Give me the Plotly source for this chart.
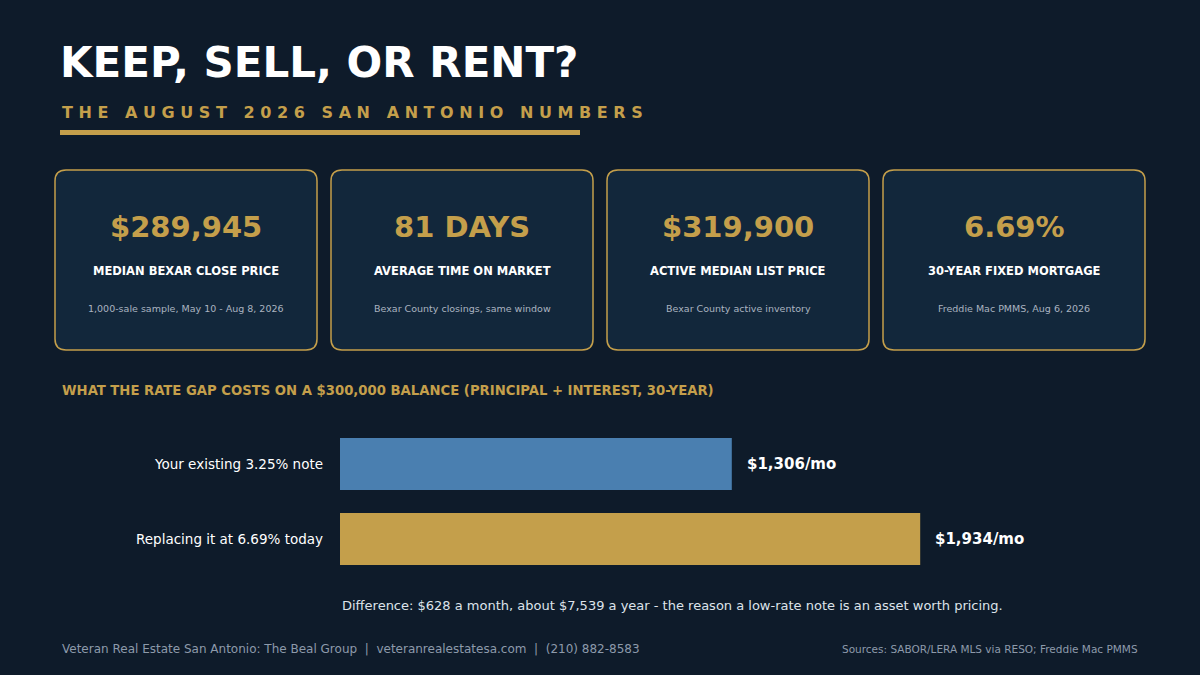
import plotly.graph_objects as go

labels = ["Your existing 3.25% note", "Replacing it at 6.69% today"]
payments = [1306, 1934]
pay_text = ["$1,306/mo", "$1,934/mo"]
bar_colors = ["#4a7fb0", "#c49f4b"]
card_values = ["$289,945", "81 DAYS", "$319,900", "6.69%"]
card_titles = ["MEDIAN BEXAR CLOSE PRICE", "AVERAGE TIME ON MARKET", "ACTIVE MEDIAN LIST PRICE", "30-YEAR FIXED MORTGAGE"]
card_notes = ["1,000-sale sample, May 10 - Aug 8, 2026", "Bexar County closings, same window",
              "Bexar County active inventory", "Freddie Mac PMMS, Aug 6, 2026"]
subtitle = "THE AUGUST 2026 SAN ANTONIO NUMBERS"

W, H = 1200, 675
BG = "#0e1b2a"; CARD = "#12273b"; GOLD = "#c49f4b"
FONT = "DejaVu Sans"

def px(x): return x / W
def py(y): return 1 - y / H

fig = go.Figure()
ypos = [1, 0]
fig.add_trace(go.Bar(x=payments, y=ypos, orientation="h", marker_color=bar_colors,
                     marker_line_width=0, width=0.693, hoverinfo="skip"))

shapes, ann = [], []
def rrect(x0, y0, x1, y1, r):
    X0, X1 = px(x0), px(x1)
    Y0, Y1 = py(y0), py(y1)
    rx, ry = r / W, r / H
    return (f"M {X0+rx},{Y0} L {X1-rx},{Y0} Q {X1},{Y0} {X1},{Y0-ry} L {X1},{Y1+ry} "
            f"Q {X1},{Y1} {X1-rx},{Y1} L {X0+rx},{Y1} Q {X0},{Y1} {X0},{Y1+ry} L {X0},{Y0-ry} Q {X0},{Y0} {X0+rx},{Y0} Z")

for i in range(4):
    x0 = 55 + i * 276; x1 = x0 + 262; cx = (x0 + x1) / 2
    shapes.append(dict(type="path", xref="paper", yref="paper", path=rrect(x0, 170, x1, 350, 11),
                       fillcolor=CARD, line=dict(color=GOLD, width=1.5), layer="below"))
    ann.append(dict(x=px(cx), y=py(227), text=f"<b>{card_values[i]}</b>", font=dict(size=29, color=GOLD, family=FONT)))
    ann.append(dict(x=px(cx), y=py(271), text=f"<b>{card_titles[i]}</b>", font=dict(size=11.5, color="white", family=FONT)))
    ann.append(dict(x=px(cx), y=py(308), text=card_notes[i], font=dict(size=9.5, color="#aab4c0", family=FONT)))

shapes.append(dict(type="rect", xref="paper", yref="paper", x0=px(60), x1=px(580), y0=py(130), y1=py(135),
                   fillcolor=GOLD, line_width=0))

spaced = "&nbsp;&nbsp;&nbsp;".join("&nbsp;".join(w) for w in subtitle.split(" "))
ann.append(dict(x=px(58), y=py(62), xanchor="left", text="<b>KEEP, SELL, OR RENT?</b>",
                font=dict(size=42, color="white", family=FONT)))
ann.append(dict(x=px(60), y=py(112), xanchor="left", text=f"<b>{spaced}</b>",
                font=dict(size=16, color=GOLD, family=FONT)))
ann.append(dict(x=px(60), y=py(390), xanchor="left",
                text="<b>WHAT THE RATE GAP COSTS ON A $300,000 BALANCE (PRINCIPAL + INTEREST, 30-YEAR)</b>",
                font=dict(size=14.7, color=GOLD, family="DejaVu Sans Condensed, " + FONT)))
for lab, yy in zip(labels, [464, 539]):
    ann.append(dict(x=px(325), y=py(yy), xanchor="right", text=lab, font=dict(size=13.5, color="white", family=FONT)))
for v, t, yv in zip(payments, pay_text, ypos):
    ann.append(dict(x=v, y=yv, xref="x", yref="y", xanchor="left", xshift=13, text=f"<b>{t}</b>",
                    font=dict(size=15, color="white", family=FONT)))
ann.append(dict(x=px(340), y=py(605), xanchor="left",
                text="Difference: $628 a month, about $7,539 a year - the reason a low-rate note is an asset worth pricing.",
                font=dict(size=13, color="#dde3ea", family=FONT)))
ann.append(dict(x=px(60), y=py(649), xanchor="left",
                text="Veteran Real Estate San Antonio: The Beal Group  |  veteranrealestatesa.com  |  (210) 882-8583",
                font=dict(size=12, color="#8d9aaa", family=FONT)))
ann.append(dict(x=px(1140), y=py(649), xanchor="right", text="Sources: SABOR/LERA MLS via RESO; Freddie Mac PMMS",
                font=dict(size=10.5, color="#8d9aaa", family=FONT)))
for a in ann:
    a.setdefault("xref", "paper"); a.setdefault("yref", "paper")
    a.update(showarrow=False, yanchor="middle")
    a.setdefault("xanchor", "center")

fig.update_layout(width=W, height=H, margin=dict(l=0, r=0, t=0, b=0),
                  paper_bgcolor=BG, plot_bgcolor="rgba(0,0,0,0)", showlegend=False,
                  shapes=shapes, annotations=ann,
                  xaxis=dict(domain=[px(340), px(1140)], range=[0, 800 / 0.3], visible=False, fixedrange=True),
                  yaxis=dict(domain=[py(576.5), py(426.5)], range=[-0.5, 1.5], visible=False, fixedrange=True))
fig.write_html("out.html", config={"displayModeBar": False})

with open("out.html", encoding="utf-8") as f:
    html = f.read()
html = html.replace("<head>", f"<head><style>html,body{{margin:0;padding:0;background:{BG};overflow:hidden}}</style>", 1)
with open("out.html", "w", encoding="utf-8") as f:
    f.write(html)
